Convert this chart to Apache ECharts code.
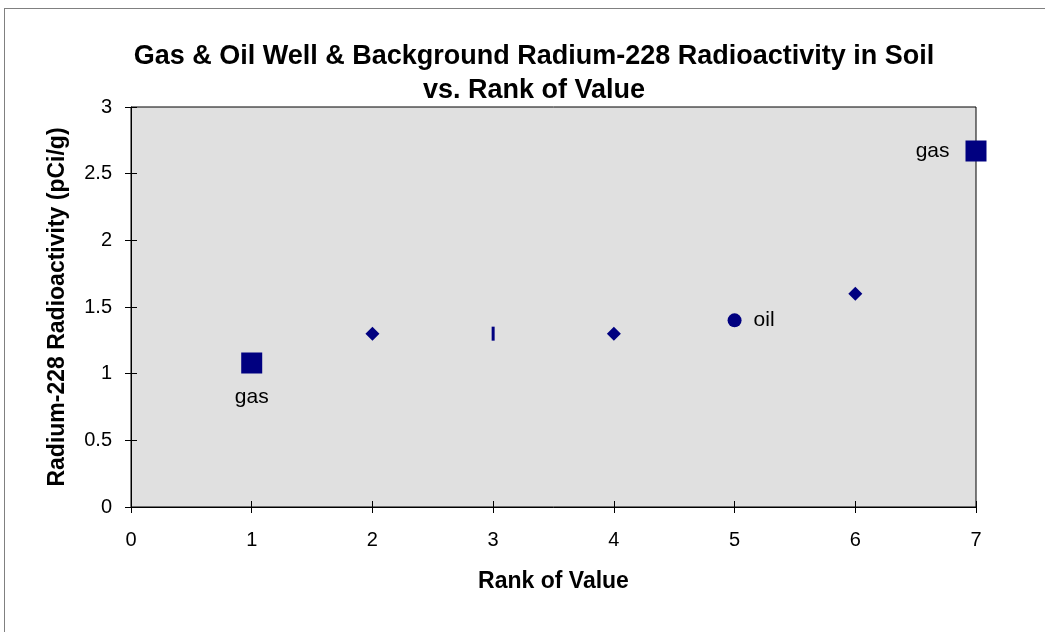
<!DOCTYPE html>
<html>
<head>
<meta charset="utf-8">
<script src="https://cdn.jsdelivr.net/npm/echarts@6/dist/echarts.min.js"></script>
<style>
    body { margin: 0; background: #fff; overflow: hidden; }
    .frame { position: absolute; left: 4px; top: 8px; width: 1100px; height: 700px; border: 1px solid #808080; }
    .chart { position: absolute; left: 0; top: 0; width: 1045px; height: 632px; }
</style>
</head>
<body>
<div class="frame"></div>
<div class="chart" id="chart"></div>
<script>
    // gas wells (squares), oil well (circle), background (diamonds), plus the dash marker
    var gasRank = [1, 7];
    var gasValue = [1.08, 2.67];
    var gasLabel = ['gas', 'gas'];
    var gasLabelPos = ['bottom', 'left'];

    var oilRank = [5];
    var oilValue = [1.4];
    var oilLabel = ['oil'];

    var bgRank = [2, 4, 6];
    var bgValue = [1.3, 1.3, 1.6];

    var dashRank = [3];
    var dashValue = [1.3];

    var xTicks = [0, 1, 2, 3, 4, 5, 6, 7];
    var yTicks = [0, 0.5, 1, 1.5, 2, 2.5, 3];

    var font = 'Liberation Sans, Arial, sans-serif';
    var navy = '#000080';

    var pairs = function(xs, ys) {
        return xs.map(function(x, i) { return [x, ys[i]]; });
    };

    var gasData = gasRank.map(function(x, i) {
        return {
            value: [x, gasValue[i]],
            label: {
                show: true,
                formatter: gasLabel[i],
                position: gasLabelPos[i],
                distance: gasLabelPos[i] == 'bottom' ? 13 : 16
            }
        };
    });

    var oilData = oilRank.map(function(x, i) {
        return {
            value: [x, oilValue[i]],
            label: { show: true, formatter: oilLabel[i], position: 'right', distance: 12 }
        };
    });

    var labelStyle = { color: '#000', fontFamily: font, fontSize: 21 };
    var markStyle = { color: navy, opacity: 1 };
    var tickStyle = { color: '#000', width: 1 };

    // a second, label-less axis draws the inner half of Excel's crossing ticks
    var innerX = {
        type: 'value',
        position: 'bottom',
        min: xTicks[0],
        max: xTicks[xTicks.length - 1],
        interval: 1,
        axisLine: { show: false },
        axisTick: { show: true, inside: true, length: 6, lineStyle: tickStyle },
        axisLabel: { show: false },
        splitLine: { show: false }
    };
    var innerY = {
        type: 'value',
        position: 'left',
        min: yTicks[0],
        max: yTicks[yTicks.length - 1],
        interval: 0.5,
        axisLine: { show: false },
        axisTick: { show: true, inside: true, length: 6, lineStyle: tickStyle },
        axisLabel: { show: false },
        splitLine: { show: false }
    };

    var option = {
        animation: false,
        title: {
            text: 'Gas & Oil Well & Background Radium-228 Radioactivity in Soil\nvs. Rank of Value',
            left: 529,
            textAlign: 'center',
            top: 35,
            textStyle: {
                fontFamily: font,
                fontSize: 27,
                fontWeight: 'bold',
                color: '#000',
                lineHeight: 34
            }
        },
        grid: {
            left: 131,
            top: 107,
            right: 69,
            bottom: 125,
            show: true,
            backgroundColor: '#e0e0e0',
            borderColor: '#000',
            borderWidth: 1
        },
        xAxis: [{
            type: 'value',
            min: xTicks[0],
            max: xTicks[xTicks.length - 1],
            interval: 1,
            name: 'Rank of Value',
            nameLocation: 'middle',
            nameGap: 63,
            nameTextStyle: { fontFamily: font, fontSize: 23, fontWeight: 'bold', color: '#000' },
            axisLine: { lineStyle: { color: '#000', width: 1 } },
            axisTick: { show: true, length: 6, lineStyle: tickStyle },
            axisLabel: { fontFamily: font, fontSize: 20, color: '#000', margin: 23 },
            splitLine: { show: false }
        }, innerX],
        yAxis: [{
            type: 'value',
            min: yTicks[0],
            max: yTicks[yTicks.length - 1],
            interval: 0.5,
            name: 'Radium-228 Radioactivity (pCi/g)',
            nameLocation: 'middle',
            nameGap: 62,
            nameTextStyle: { fontFamily: font, fontSize: 23, fontWeight: 'bold', color: '#000' },
            axisLine: { show: true, lineStyle: { color: '#000', width: 1 } },
            axisTick: { show: true, length: 6, lineStyle: tickStyle },
            axisLabel: { fontFamily: font, fontSize: 20, color: '#000', margin: 19 },
            splitLine: { show: false }
        }, innerY],
        series: [{
            name: 'gas',
            type: 'scatter',
            symbol: 'rect',
            symbolSize: 21,
            itemStyle: markStyle,
            label: labelStyle,
            data: gasData
        }, {
            name: 'oil',
            type: 'scatter',
            symbol: 'circle',
            symbolSize: 14,
            itemStyle: markStyle,
            label: labelStyle,
            data: oilData
        }, {
            name: 'background',
            type: 'scatter',
            symbol: 'diamond',
            symbolSize: 14,
            itemStyle: markStyle,
            data: pairs(bgRank, bgValue)
        }, {
            name: 'dash',
            type: 'scatter',
            symbol: 'rect',
            symbolSize: [3, 14],
            itemStyle: markStyle,
            data: pairs(dashRank, dashValue)
        }]
    };

    echarts.init(document.getElementById('chart')).setOption(option);
</script>
</body>
</html>
